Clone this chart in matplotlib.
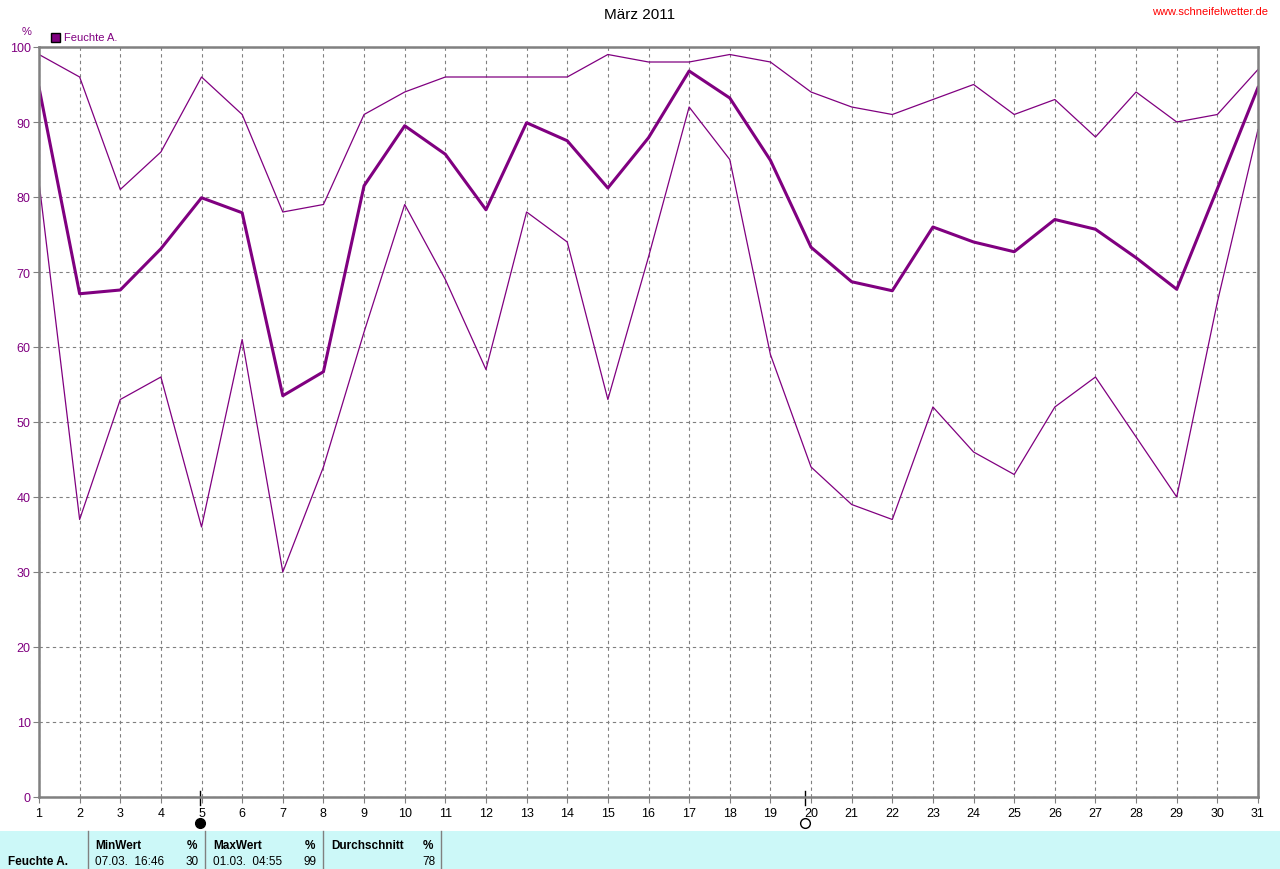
import matplotlib.pyplot as plt
import matplotlib.transforms as mtransforms
from matplotlib.patches import Rectangle
import numpy as np

days = list(range(1, 32))
hum_max = [99, 96, 81, 86, 96, 91, 78, 79, 91, 94, 96, 96, 96, 96, 99, 98,
           98, 99, 98, 94, 92, 91, 93, 95, 91, 93, 88, 94, 90, 91, 97]
hum_mean = [94.6, 67.1, 67.6, 73.1, 79.9, 77.9, 53.5, 56.7, 81.5, 89.5, 85.7,
            78.3, 89.9, 87.5, 81.2, 87.9, 96.8, 93.2, 84.9, 73.3, 68.7, 67.5,
            76.0, 74.0, 72.7, 77.0, 75.7, 71.9, 67.7, 81.1, 94.6]
hum_min = [82, 37, 53, 56, 36, 61, 30, 44, 62, 79, 69, 57, 78, 74, 53, 72,
           92, 85, 59, 44, 39, 37, 52, 46, 43, 52, 56, 48, 40, 66, 89]
y_ticks = [0, 10, 20, 30, 40, 50, 60, 70, 80, 90, 100]
moon_days = [4.95, 19.85]
moon_full = [False, True]

purple = '#800080'
gray = '#808080'
W, H = 1280, 870

fig = plt.figure(figsize=(12.8, 8.7), dpi=100)
plt.rcParams['font.family'] = ['Liberation Sans', 'DejaVu Sans']
ax = fig.add_axes([39 / W, 1 - 798 / H, (1258 - 39) / W, (798 - 48) / H])

ax.plot(days, hum_max, color=purple, lw=0.9)
ax.plot(days, hum_min, color=purple, lw=0.9)
ax.plot(days, hum_mean, color=purple, lw=2.2)

ax.set_xlim(1, 31)
ax.set_ylim(0, 100)
ax.set_xticks(days)
ax.set_yticks(y_ticks)
ax.tick_params(axis='x', length=4, color=gray, labelsize=9, pad=3)
ax.tick_params(axis='y', length=4, color=gray, labelsize=9, labelcolor=purple, pad=2)
ax.grid(True, color=gray, ls=(0, (3, 3)), lw=0.8)
for s in ax.spines.values():
    s.set_color(gray)
    s.set_linewidth(1.8)

# moon phases below the x axis
trans = mtransforms.blended_transform_factory(ax.transData, ax.transAxes)
for d, full in zip(moon_days, moon_full):
    ax.plot([d, d], [-0.010, 0.008], color='black', lw=1, transform=trans, clip_on=False)
    if full:
        ax.plot(d, -0.035, 'o', ms=7, mfc='white', mec='black', mew=1, transform=trans, clip_on=False)
    else:
        ax.plot(d, -0.035, 'o', ms=7, mfc='black', mec='black', transform=trans, clip_on=False)

fig.text(640 / W, 1 - 15 / H, 'März 2011', ha='center', va='center', fontsize=11)
fig.text(1268 / W, 1 - 12 / H, 'www.schneifelwetter.de', ha='right', va='center',
         fontsize=8, color='red')
fig.text(27 / W, 1 - 32 / H, '%', ha='center', va='center', fontsize=8, color=purple)
fig.patches.append(Rectangle((51 / W, 1 - 43 / H), 9 / W, 9 / H, transform=fig.transFigure,
                             facecolor=purple, edgecolor='black', lw=1))
fig.text(64 / W, 1 - 38 / H, 'Feuchte A.', ha='left', va='center', fontsize=8, color=purple)

# summary table at the bottom
fig.patches.append(Rectangle((0, 0), 1, 38 / H, transform=fig.transFigure,
                             facecolor='#CCF8F8', edgecolor='none'))
for xs in [88, 205, 323, 441]:
    fig.add_artist(plt.Line2D([xs / W, xs / W], [0, 38 / H], color=gray, lw=1))
y1 = 1 - 846 / H
y2 = 1 - 862 / H
fig.text(8 / W, y2, 'Feuchte A.', fontsize=8.5, fontweight='bold', va='center')
cols = [(95, 'MinWert', '07.03.  16:46', '30'),
        (213, 'MaxWert', '01.03.  04:55', '99'),
        (331, 'Durchschnitt', '', '78')]
for x0, head, when, val in cols:
    fig.text(x0 / W, y1, head, fontsize=8.5, fontweight='bold', va='center')
    fig.text((x0 + 102) / W, y1, '%', fontsize=8.5, fontweight='bold', va='center', ha='right')
    fig.text(x0 / W, y2, when, fontsize=8.5, va='center')
    fig.text((x0 + 104) / W, y2, val, fontsize=8.5, va='center', ha='right')

fig.savefig('out.png', dpi=100, facecolor='white')
